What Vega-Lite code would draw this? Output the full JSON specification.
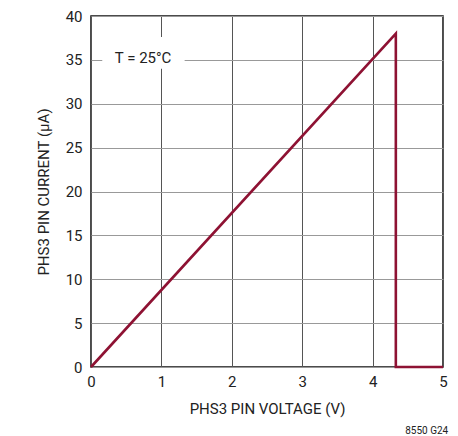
{
  "$schema": "https://vega.github.io/schema/vega-lite/v6.json",
  "width": 352,
  "height": 351,
  "autosize": "none",
  "padding": {"left": 91, "top": 16, "right": 15, "bottom": 69},
  "background": "white",
  "config": {
    "font": "Roboto",
    "view": {"stroke": "#111", "strokeWidth": 1.5},
    "axis": {"labelFont": "Roboto", "titleFont": "Roboto", "labelFontSize": 15, "titleFontSize": 15, "titleFontWeight": "normal", "labelColor": "#222", "titleColor": "#222", "ticks": false, "domain": false, "labelFlush": false}
  },
  "title": {"text": "8550 G24", "orient": "bottom", "anchor": "end", "fontSize": 10, "fontWeight": "normal", "font": "Roboto", "color": "#222", "offset": 10, "baseline": "top"},
  "layer": [
    {
      "data": {"values": [{"x": 0, "y": 0, "o": 1}, {"x": 4.33, "y": 38, "o": 2}, {"x": 4.33, "y": 0, "o": 3}, {"x": 5, "y": 0, "o": 4}]},
      "mark": {"type": "line", "color": "#8E1233", "strokeWidth": 2.6, "clip": false},
      "encoding": {
        "x": {"field": "x", "type": "quantitative", "scale": {"domain": [0, 5], "nice": false}, "axis": {"title": "PHS3 PIN VOLTAGE (V)", "values": [0,1,2,3,4,5], "format": "d", "gridColor": "#555", "gridOpacity": 1, "labelPadding": 7, "titlePadding": 12}},
        "y": {"field": "y", "type": "quantitative", "scale": {"domain": [0, 40], "nice": false}, "axis": {"title": "PHS3 PIN CURRENT (µA)", "values": [0,5,10,15,20,25,30,35,40], "format": "d", "gridColor": "#999", "gridOpacity": 1, "labelPadding": 9, "titlePadding": 14}},
        "order": {"field": "o"}
      }
    },
    {
      "data": {"values": [{"x1": 0.16, "x2": 1.33, "y1": 34.0, "y2": 37.6}]},
      "mark": {"type": "rect", "color": "white"},
      "encoding": {
        "x": {"field": "x1", "type": "quantitative"},
        "x2": {"field": "x2"},
        "y": {"field": "y1", "type": "quantitative"},
        "y2": {"field": "y2"}
      }
    },
    {
      "data": {"values": [{"x": 0.74, "y": 35.2, "t": "T = 25°C"}]},
      "mark": {"type": "text", "fontSize": 15, "color": "#222", "font": "Roboto", "baseline": "middle", "align": "center"},
      "encoding": {
        "x": {"field": "x", "type": "quantitative"},
        "y": {"field": "y", "type": "quantitative"},
        "text": {"field": "t"}
      }
    }
  ]
}
